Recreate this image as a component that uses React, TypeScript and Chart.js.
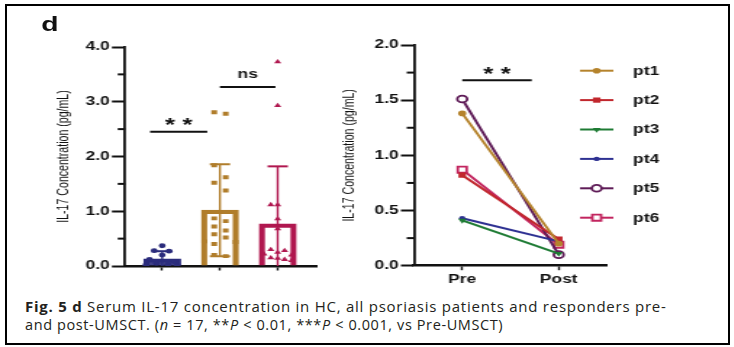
import React, { useEffect, useRef } from 'react';
import { Chart, registerables } from 'chart.js';
import { drawPoint } from 'chart.js/helpers';
Chart.register(...registerables);

// ---------------- Left panel data ----------------
const groupLabels = ['HC', 'Psoriasis', 'Responders'];
const groupMeans = [0.13, 1.02, 0.77];
const groupSD = [0.14, 0.84, 1.05];
const hcValues = [0.37, 0.28, 0.27, 0.2, 0.12, 0.08, 0.05, 0.03, 0.02, 0.01];
const hcJitter = [0, -0.14, 0.12, 0.0, -0.22, 0.2, -0.1, 0.1, -0.28, 0.26];
const psValues = [2.81, 2.78, 1.84, 1.62, 1.52, 1.38, 0.87, 0.82, 0.72, 0.65, 0.58, 0.52, 0.45, 0.44, 0.4, 0.2, 0.18];
const psJitter = [-0.1, 0.1, -0.1, 0.1, -0.1, 0.1, -0.1, 0.1, -0.1, 0.1, -0.1, 0.1, -0.27, 0.27, -0.1, -0.1, 0.1];
const rsValues = [3.73, 2.93, 1.12, 1.12, 0.86, 0.68, 0.3, 0.28, 0.25, 0.22, 0.2, 0.15, 0.14, 0.12, 0.1];
const rsJitter = [0, 0, -0.12, 0, 0, 0, -0.12, 0.12, 0, -0.24, 0.24, -0.12, 0, 0.12, 0.24];
const leftSigFrom = [-0.21, 1.0];
const leftSigTo = [0.78, 1.96];
const leftSigY = [2.45, 3.27];
const leftSigText = ['* *', 'ns'];

// ---------------- Right panel data ----------------
const timepoints = ['Pre', 'Post'];
const patients = ['pt1', 'pt2', 'pt3', 'pt4', 'pt5', 'pt6'];
const preValues = [1.38, 0.82, 0.41, 0.43, 1.51, 0.87];
const postValues = [0.2, 0.24, 0.11, 0.22, 0.1, 0.19];
const rightSigFrom = [0];
const rightSigTo = [0.72];
const rightSigY = [1.68];
const rightSigText = ['* *'];

// ---------------- Styles ----------------
const S = 1.45; // horizontal stretch of the figure
const FONT = '"Liberation Sans", Arimo, sans-serif';
const INK = '#111111';
const groupColors = ['#2B2C7C', '#B07D2B', '#B0174F'];
const groupFills = ['rgba(43,44,124,0.9)', 'rgba(0,0,0,0)', 'rgba(0,0,0,0)'];
const patientColors = ['#B5832C', '#C1272D', '#1E7B34', '#2E3192', '#5E1B57', '#C2255F'];
const patientStyles = ['circle', 'rect', 'triangle', 'circle', 'circle', 'rect'];
const patientRotation = [0, 0, 180, 0, 0, 0];
const patientRadius = [2.8, 3.7, 3.2, 2.2, 3.4, 4.3];
const patientFilled = [true, true, true, true, false, false];

function drawSig(chart: any, from: number[], to: number[], ys: number[], texts: string[]) {
  const { ctx, scales } = chart;
  const x = scales.x, y = scales.y;
  ctx.save();
  ctx.strokeStyle = INK;
  ctx.fillStyle = INK;
  ctx.lineWidth = 2;
  texts.forEach((t, i) => {
    const x1 = x.getPixelForValue(from[i]);
    const x2 = x.getPixelForValue(to[i]);
    const py = y.getPixelForValue(ys[i]);
    ctx.beginPath();
    ctx.moveTo(x1, py);
    ctx.lineTo(x2, py);
    ctx.stroke();
    ctx.textAlign = 'center';
    ctx.textBaseline = 'alphabetic';
    if (t === 'ns') {
      ctx.font = `bold 12px ${FONT}`;
      ctx.fillText(t, (x1 + x2) / 2, py - 9);
    } else {
      ctx.font = `bold 18px ${FONT}`;
      ctx.fillText(t, (x1 + x2) / 2, py - 0.5);
    }
  });
  ctx.restore();
}

function drawMinor(chart: any, step: number, major: number) {
  const { ctx, scales, chartArea } = chart;
  const y = scales.y;
  ctx.save();
  ctx.strokeStyle = INK;
  ctx.lineWidth = 2;
  for (let v = step; v < y.max; v += step) {
    if (Math.abs(v / major - Math.round(v / major)) < 1e-6) continue;
    const py = y.getPixelForValue(v);
    ctx.beginPath();
    ctx.moveTo(chartArea.left - 5, py);
    ctx.lineTo(chartArea.left, py);
    ctx.stroke();
  }
  ctx.restore();
}

const leftPlugin = {
  id: 'leftDecor',
  afterDatasetDraw(chart: any, args: any) {
    if (args.index !== 0) return;
    const { ctx, scales } = chart;
    const x = scales.x, y = scales.y;
    ctx.save();
    groupMeans.forEach((m, i) => {
      const px = x.getPixelForValue(i);
      const lo = Math.max(0, m - groupSD[i]);
      const hi = m + groupSD[i];
      ctx.strokeStyle = groupColors[i];
      ctx.lineWidth = 1.4;
      ctx.beginPath();
      ctx.moveTo(px, y.getPixelForValue(lo));
      ctx.lineTo(px, y.getPixelForValue(hi));
      ctx.stroke();
      ctx.lineWidth = 2;
      const cw = 7;
      ctx.beginPath();
      ctx.moveTo(px - cw, y.getPixelForValue(hi));
      ctx.lineTo(px + cw, y.getPixelForValue(hi));
      if (lo > 0) {
        ctx.moveTo(px - cw, y.getPixelForValue(lo));
        ctx.lineTo(px + cw, y.getPixelForValue(lo));
      }
      ctx.stroke();
    });
    ctx.restore();
  },
  afterDraw(chart: any) {
    drawMinor(chart, 0.5, 1);
    drawSig(chart, leftSigFrom, leftSigTo, leftSigY, leftSigText);
  },
};

const rightPlugin = {
  id: 'rightDecor',
  afterDraw(chart: any) {
    drawMinor(chart, 0.25, 0.5);
    drawSig(chart, rightSigFrom, rightSigTo, rightSigY, rightSigText);
    // legend
    const { ctx } = chart;
    ctx.save();
    patients.forEach((p, i) => {
      const ly = 70.7 + i * 29.4;
      const c = patientColors[i];
      ctx.strokeStyle = c;
      ctx.lineWidth = 2;
      ctx.beginPath();
      ctx.moveTo(168, ly);
      ctx.lineTo(191, ly);
      ctx.stroke();
      ctx.fillStyle = patientFilled[i] ? c : '#ffffff';
      ctx.strokeStyle = c;
      ctx.lineWidth = patientFilled[i] ? 0 : 1.8;
      drawPoint(ctx, {
        pointStyle: patientStyles[i] as any,
        rotation: patientRotation[i],
        radius: patientRadius[i],
        borderWidth: patientFilled[i] ? 0 : 1.8,
      } as any, 179.5, ly);
      ctx.fillStyle = INK;
      ctx.font = `bold 12px ${FONT}`;
      ctx.textAlign = 'left';
      ctx.textBaseline = 'middle';
      ctx.fillText(p, 204.6, ly + 0.5);
    });
    ctx.restore();
  },
};

const yTitle = (padTop: number) => ({
  display: true,
  text: 'IL-17 Concentration (pg/mL)',
  color: '#111111',
  font: { family: FONT, size: 10.6, weight: 'normal' as const },
  padding: { top: padTop, bottom: 0 },
});

function leftConfig(): any {
  const scatter = (vals: number[], jit: number[], gi: number, style: string, r: number) => ({
    type: 'scatter',
    data: vals.map((v, i) => ({ x: gi + jit[i], y: v })),
    pointStyle: style,
    pointRadius: r,
    backgroundColor: groupColors[gi],
    borderColor: groupColors[gi],
    borderWidth: 0,
    order: 1,
  });
  return {
    type: 'bar',
    data: {
      datasets: [
        {
          type: 'bar',
          label: 'mean',
          data: groupMeans.map((m, i) => ({ x: i, y: m })),
          backgroundColor: groupFills,
          borderColor: groupColors,
          borderWidth: 3.6,
          barThickness: 25.5,
          order: 10,
        },
        scatter(hcValues, hcJitter, 0, 'circle', 2.4),
        scatter(psValues, psJitter, 1, 'rect', 2.8),
        scatter(rsValues, rsJitter, 2, 'triangle', 2.9),
      ],
    },
    options: {
      animation: false,
      responsive: false,
      devicePixelRatio: 1,
      layout: { padding: { top: 47, left: 0, right: 13.4, bottom: 4 } },
      plugins: { legend: { display: false }, tooltip: { enabled: false } },
      scales: {
        x: {
          type: 'linear',
          min: -0.644,
          max: 2.68,
          offset: false,
          afterBuildTicks: (s: any) => {
            s.ticks = groupLabels.map((_, i) => ({ value: i }));
          },
          afterFit: (s: any) => {
            s.height = 20;
          },
          ticks: { display: false },
          grid: { offset: false, drawOnChartArea: false, drawTicks: true, tickLength: 4.5, tickWidth: 1.4, tickColor: INK },
          border: { display: true, color: INK, width: 2.5 },
        },
        y: {
          type: 'linear',
          min: 0,
          max: 4,
          afterFit: (s: any) => {
            s.width = 86.2;
          },
          ticks: {
            stepSize: 1,
            callback: (v: number) => v.toFixed(1),
            font: { family: FONT, size: 12, weight: 'bold' },
            color: INK,
            padding: 1.5,
          },
          grid: { drawOnChartArea: false, drawTicks: true, tickLength: 9, tickWidth: 2, tickColor: INK },
          border: { display: true, color: INK, width: 1.8 },
          title: yTitle(38),
        },
      },
    },
    plugins: [leftPlugin],
  };
}

function rightConfig(): any {
  return {
    type: 'line',
    data: {
      labels: timepoints,
      datasets: patients.map((p, i) => ({
        label: p,
        data: [preValues[i], postValues[i]],
        borderColor: patientColors[i],
        borderWidth: 2,
        pointStyle: patientStyles[i],
        pointRotation: patientRotation[i],
        pointRadius: patientRadius[i],
        pointBackgroundColor: patientFilled[i] ? patientColors[i] : '#ffffff',
        pointBorderColor: patientColors[i],
        pointBorderWidth: patientFilled[i] ? 0 : 1.8,
        fill: false,
        tension: 0,
      })),
    },
    options: {
      animation: false,
      responsive: false,
      devicePixelRatio: 1,
      layout: { padding: { top: 45, left: 0, right: 87.4, bottom: 0.3 } },
      plugins: { legend: { display: false }, tooltip: { enabled: false } },
      scales: {
        x: {
          type: 'category',
          offset: true,
          afterFit: (s: any) => {
            s.height = 24;
          },
          ticks: { font: { family: FONT, size: 12, weight: 'bold' }, color: INK, padding: 2 },
          grid: { offset: false, drawOnChartArea: false, drawTicks: true, tickLength: 4.5, tickWidth: 1.4, tickColor: INK },
          border: { display: true, color: INK, width: 2.5 },
        },
        y: {
          type: 'linear',
          min: 0,
          max: 2,
          afterFit: (s: any) => {
            s.width = 53.5;
          },
          ticks: {
            stepSize: 0.5,
            callback: (v: number) => v.toFixed(1),
            font: { family: FONT, size: 12, weight: 'bold' },
            color: INK,
            padding: 1.5,
          },
          grid: { drawOnChartArea: false, drawTicks: true, tickLength: 9, tickWidth: 2, tickColor: INK },
          border: { display: true, color: INK, width: 1.8 },
          title: yTitle(3.1),
        },
      },
    },
    plugins: [rightPlugin],
  };
}

export default function App() {
  const leftRef = useRef<HTMLCanvasElement>(null);
  const rightRef = useRef<HTMLCanvasElement>(null);
  useEffect(() => {
    const lc = new Chart(leftRef.current as HTMLCanvasElement, leftConfig());
    const rc = new Chart(rightRef.current as HTMLCanvasElement, rightConfig());
    return () => {
      lc.destroy();
      rc.destroy();
    };
  }, []);

  const capStyle: React.CSSProperties = {
    position: 'absolute',
    left: 25,
    fontFamily: '"Open Sans", Lato, sans-serif',
    lineHeight: '17px',
    color: '#231F20',
    whiteSpace: 'nowrap',
  };

  return (
    <div style={{ position: 'absolute', left: 0, top: 0, width: 734, height: 347, background: '#fff', overflow: 'hidden' }}>
      <div
        style={{
          position: 'absolute',
          left: 5,
          top: 4,
          width: 725,
          height: 341,
          border: '2px solid #000',
          boxSizing: 'border-box',
        }}
      />
      <div
        style={{
          position: 'absolute',
          left: 0,
          top: 0,
          width: 506,
          height: 290,
          transform: `scaleX(${S})`,
          transformOrigin: '0 0',
        }}
      >
        <div
          style={{
            position: 'absolute',
            left: 28.5,
            top: 14,
            fontFamily: FONT,
            fontWeight: 'bold',
            fontSize: 19.5,
            lineHeight: '20px',
            color: INK,
          }}
        >
          d
        </div>
        <canvas
          ref={leftRef}
          width={232}
          height={290}
          style={{ position: 'absolute', left: 0, top: 0, width: 232, height: 290 }}
        />
        <canvas
          ref={rightRef}
          width={274}
          height={290}
          style={{ position: 'absolute', left: 232, top: 0, width: 274, height: 290 }}
        />
      </div>
      <div style={{ ...capStyle, top: 298, fontSize: 15, letterSpacing: '0.75px' }}>
        <b>Fig. 5 d</b> Serum IL-17 concentration in HC, all psoriasis patients and responders pre-
      </div>
      <div style={{ ...capStyle, top: 315.5, fontSize: 14.5, letterSpacing: '0.6px' }}>
        and post-UMSCT. (<i>n</i> = 17, **<i>P</i> &lt; 0.01, ***<i>P</i> &lt; 0.001, vs Pre-UMSCT)
      </div>
    </div>
  );
}
